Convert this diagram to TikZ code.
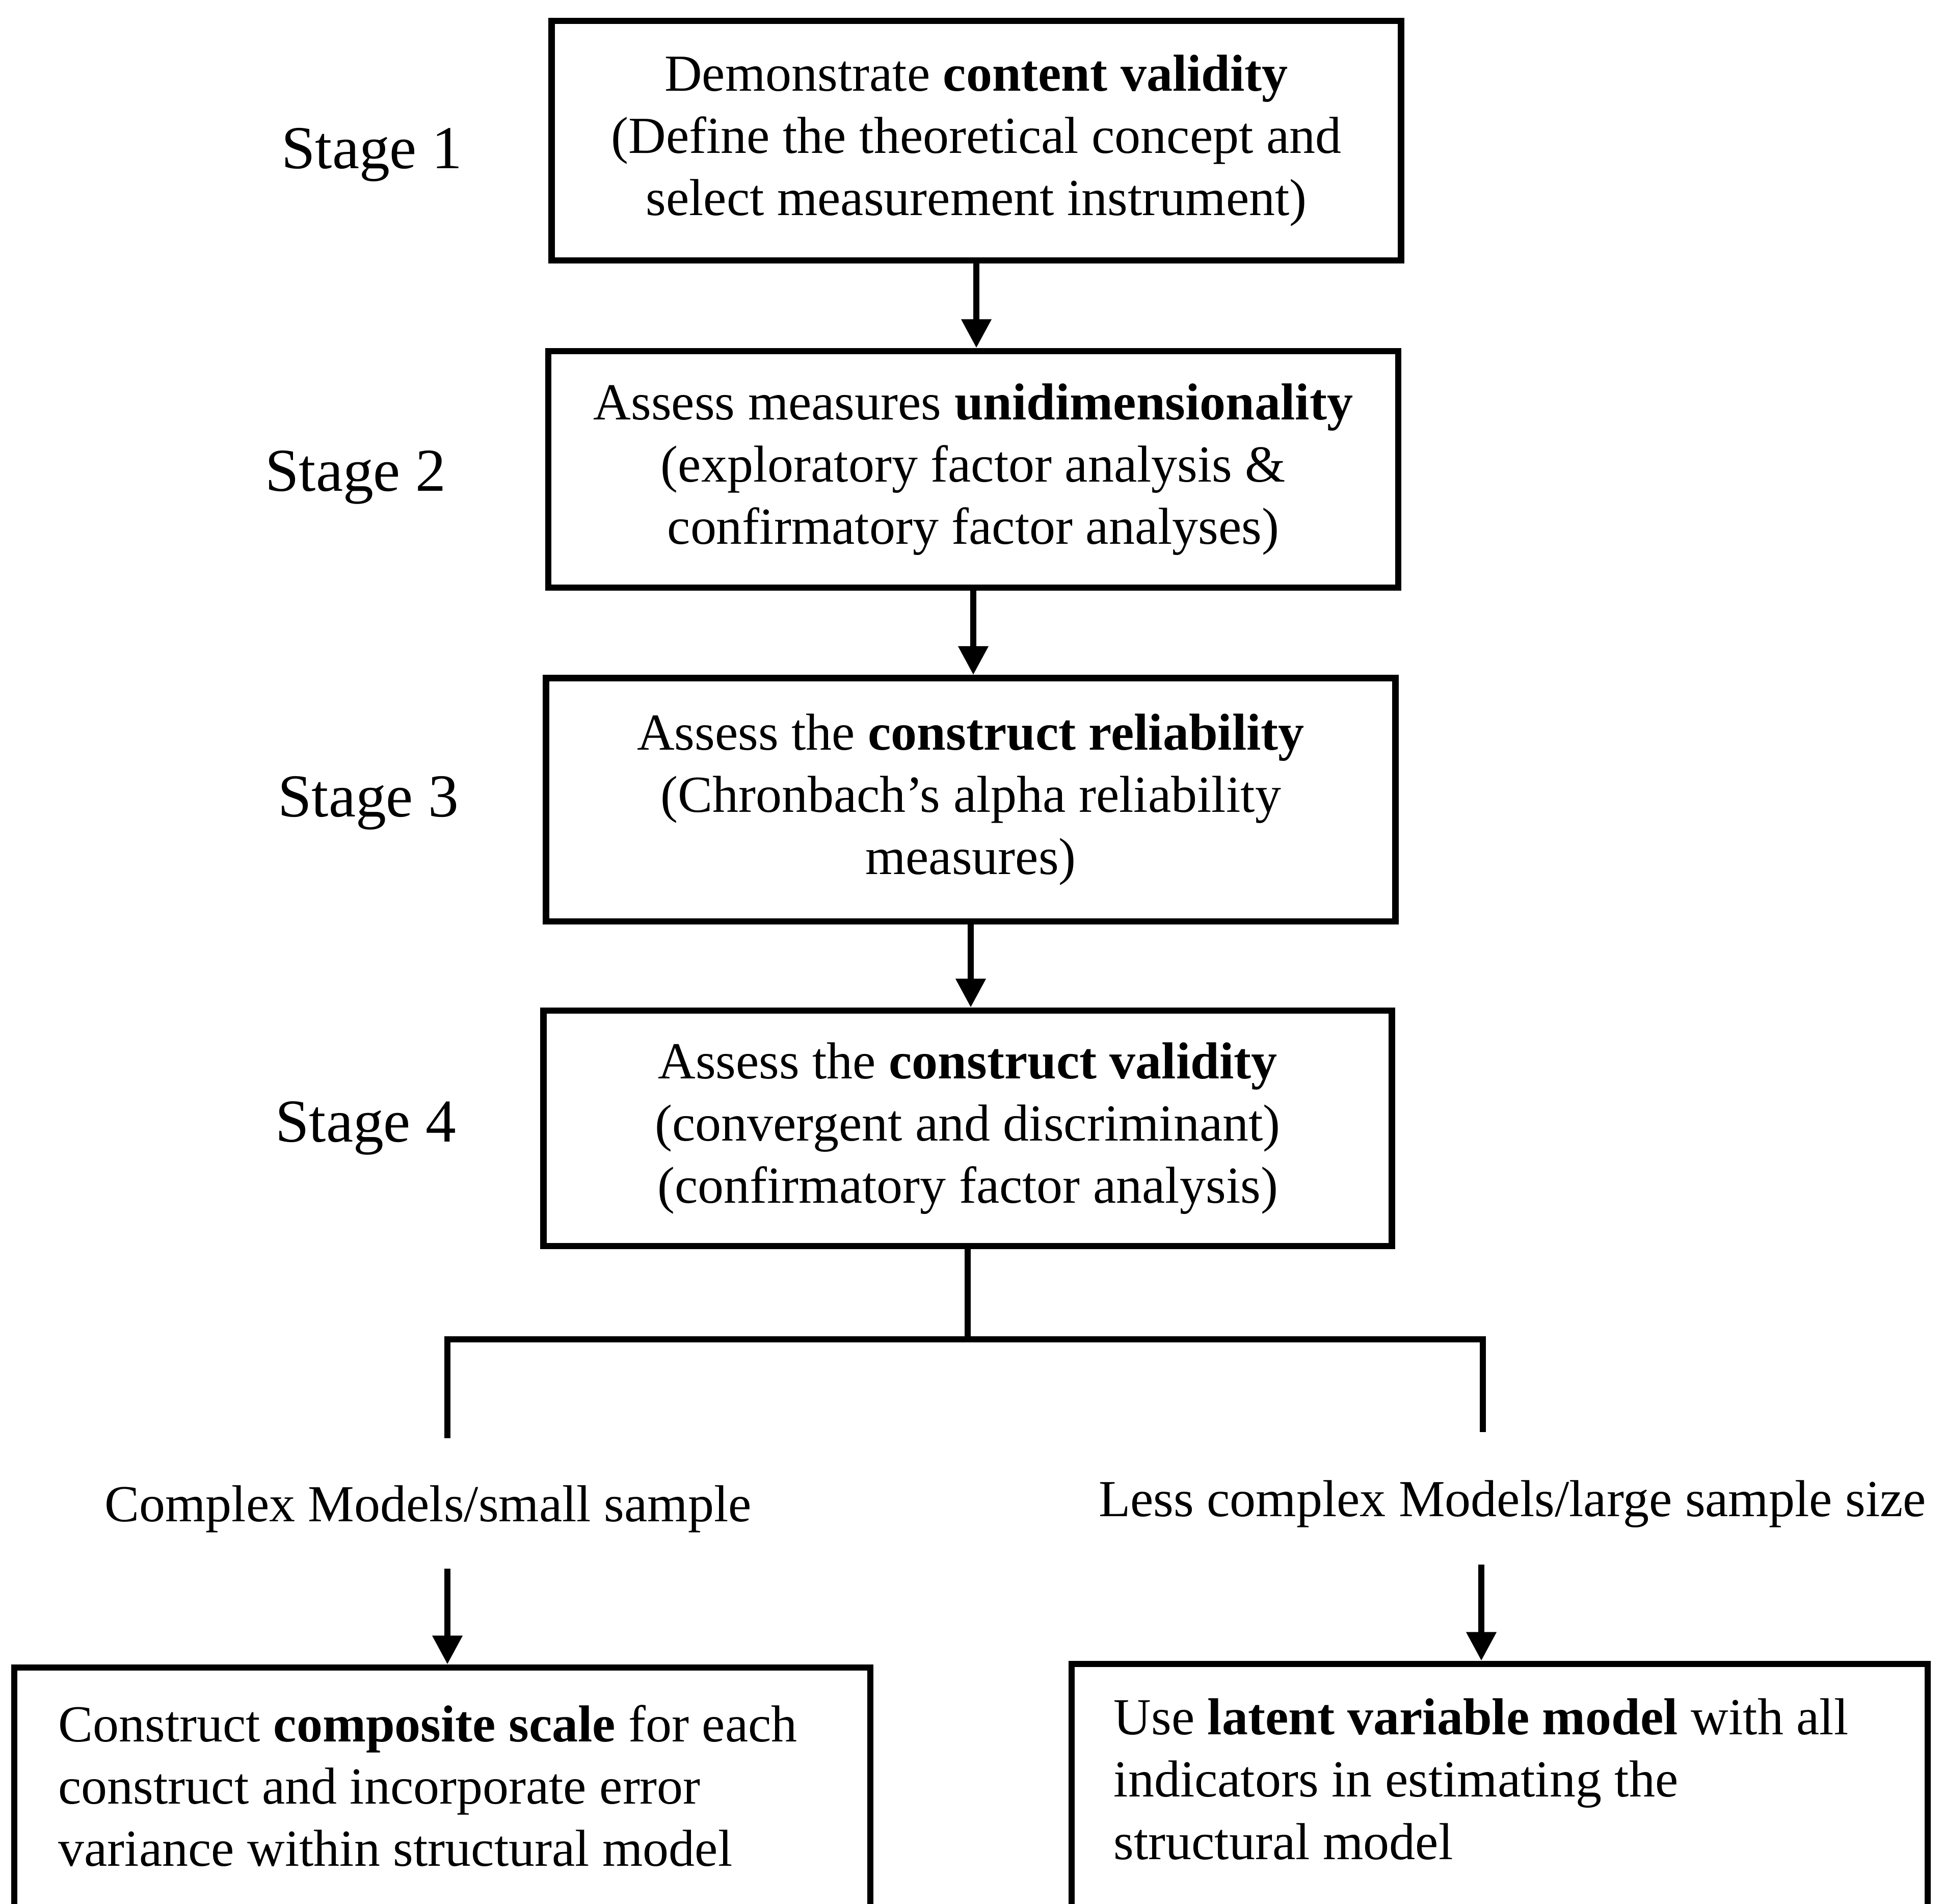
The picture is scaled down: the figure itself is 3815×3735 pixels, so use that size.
\documentclass[tikz,border=0pt]{standalone}
\usepackage{fontspec}
\setmainfont{Liberation Serif}
\usetikzlibrary{arrows.meta}
\begin{document}
\begin{tikzpicture}[x=0.01cm,y=-0.01cm,
  txt/.style={font=\fontsize{29}{34.8}\selectfont, inner sep=0pt},
  stagelbl/.style={font=\fontsize{34}{40}\selectfont, inner sep=0pt},
  box/.style={draw, line width=3.5pt, inner sep=0pt, align=center, font=\fontsize{29}{34.8}\selectfont},
  ln/.style={line width=3.5pt},
  arr/.style={line width=3.5pt, -{Triangle[width=16pt,length=16pt]}}]
\clip (0,0) rectangle (3815,3735);
% stage boxes
\node[box, minimum width=16.66cm, minimum height=4.70cm] (b1) at (1916,276)
  {Demonstrate \textbf{content validity}\\(Define the theoretical concept and\\select measurement instrument)};
\node[box, minimum width=16.67cm, minimum height=4.64cm] (b2) at (1910,921)
  {Assess measures \textbf{unidimensionality}\\(exploratory factor analysis \&\\confirmatory factor analyses)};
\node[box, minimum width=16.66cm, minimum height=4.77cm] (b3) at (1905,1569)
  {Assess the \textbf{construct reliability}\\(Chronbach's alpha reliability\\measures)};
\node[box, minimum width=16.64cm, minimum height=4.62cm] (b4) at (1899,2214)
  {Assess the \textbf{construct validity}\\(convergent and discriminant)\\(confirmatory factor analysis)};
% stage labels
\node[stagelbl] (s1) at (730,304) {Stage 1};
\node[stagelbl] (s2) at (698,937) {Stage 2};
\node[stagelbl] (s3) at (723,1576) {Stage 3};
\node[stagelbl] (s4) at (718,2214) {Stage 4};
% arrows between stages
\draw[arr] (b1.south) -- (b1.south |- b2.north);
\draw[arr] (b2.south) -- (b2.south |- b3.north);
\draw[arr] (b3.south) -- (b3.south |- b4.north);
% branching
\coordinate (j) at (1899,2628);
\coordinate (hL) at (878,2628);
\coordinate (hR) at (2910,2628);
\coordinate (dL) at (878,2822);
\coordinate (dR) at (2910,2810);
\draw[ln] (b4.south) -- (j);
\draw[ln] (dL) -- (hL) -- (hR) -- (dR);
% branch labels
\node[txt] (lL) at (840,2961) {Complex Models/small sample};
\node[txt] (lR) at (2968,2951) {Less complex Models/large sample size};
% bottom boxes
\node[box, minimum width=16.79cm, minimum height=5.60cm] (b5) at (868,3552) {};
\node[box, minimum width=16.79cm, minimum height=5.60cm] (b6) at (2943,3545) {};
\node[txt, anchor=west, align=left] (t5) at (114,3504)
  {Construct \textbf{composite scale} for each\\construct and incorporate error\\variance within structural model};
\node[txt, anchor=west, align=left] (t6) at (2185,3491)
  {Use \textbf{latent variable model} with all\\indicators in estimating the\\structural model};
\coordinate (aL) at (878,3078);
\coordinate (aR) at (2907,3070);
\draw[arr] (aL) -- (aL |- b5.north);
\draw[arr] (aR) -- (aR |- b6.north);
\end{tikzpicture}
\end{document}
